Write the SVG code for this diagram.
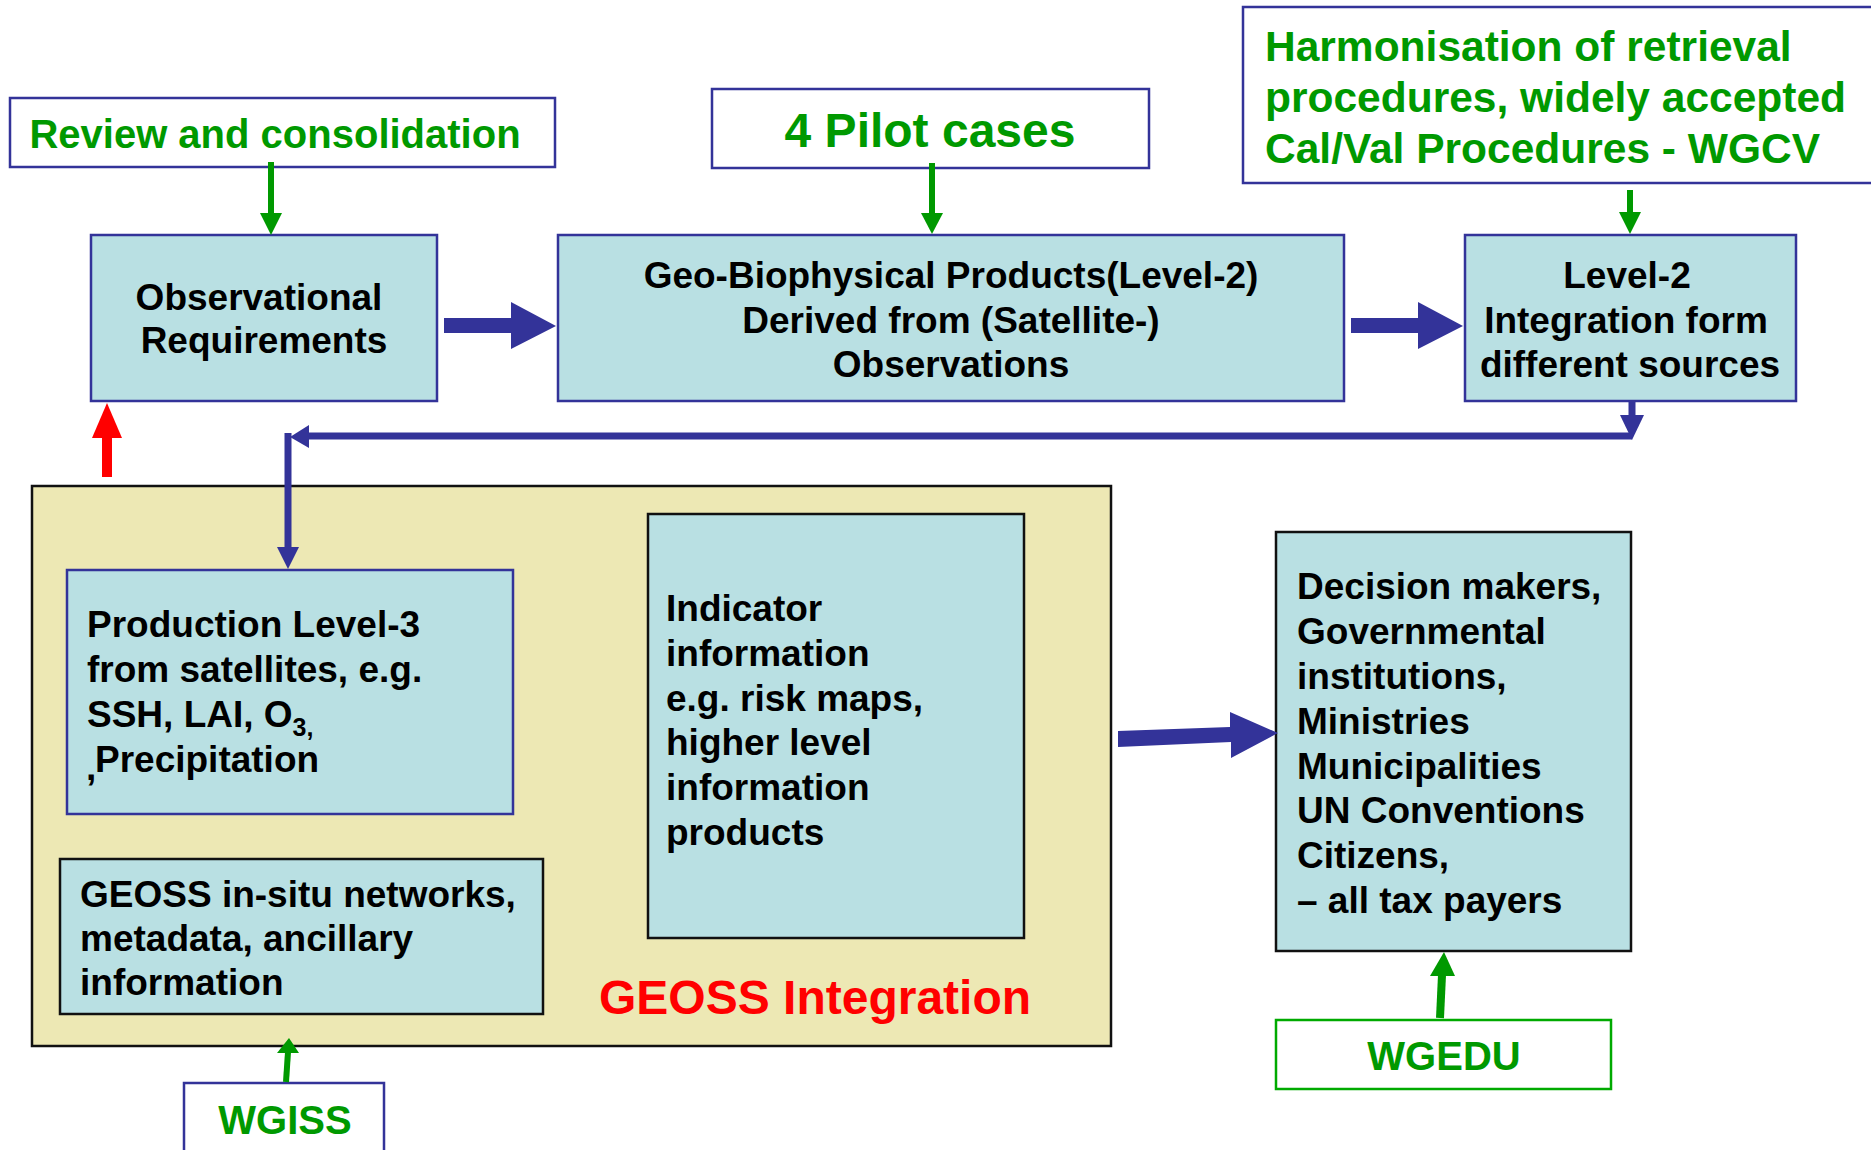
<svg xmlns="http://www.w3.org/2000/svg" width="1871" height="1150" viewBox="0 0 1871 1150">
<style>
.bg{fill:#ffffff}
.node{fill:#b9e0e3;stroke:#333399;stroke-width:2.5}
.nodek{fill:#b9e0e3;stroke:#111111;stroke-width:2.5}
.lab{fill:#ffffff;stroke:#333399;stroke-width:2.5}
.geoss{fill:#ede8b4;stroke:#111111;stroke-width:2.5}
.t{font-family:"Liberation Sans",Arial,sans-serif;font-weight:bold;font-size:37px;fill:#000000}
.g{font-family:"Liberation Sans",Arial,sans-serif;font-weight:bold;fill:#009900}
.r{font-family:"Liberation Sans",Arial,sans-serif;font-weight:bold;fill:#ff0000}
.blue{fill:#333399}
.green{fill:#009900}
.bline{fill:none;stroke:#333399;stroke-width:7}
.gline{fill:none;stroke:#009900;stroke-width:6}
</style>
<rect class="bg" x="0" y="0" width="1871" height="1150"/>

<g id="geoss-integration">
<rect class="geoss" x="32" y="486" width="1079" height="560"/>
<text class="r" x="599" y="1014" font-size="48">GEOSS Integration</text>
</g>

<g id="review">
<rect class="lab" x="10" y="98" width="545" height="69"/>
<text class="g" x="275" y="148" font-size="40" text-anchor="middle">Review and consolidation</text>
</g>

<g id="pilot">
<rect class="lab" x="712" y="89" width="437" height="79"/>
<text class="g" x="930" y="147" font-size="48" text-anchor="middle">4 Pilot cases</text>
</g>

<g id="harmonisation">
<rect class="lab" x="1243" y="7" width="640" height="176"/>
<text class="g" font-size="42.5"><tspan x="1265" y="61">Harmonisation of retrieval</tspan><tspan x="1265" y="112">procedures, widely accepted</tspan><tspan x="1265" y="163">Cal/Val Procedures - WGCV</tspan></text>
</g>

<g id="obs-req">
<rect class="node" x="91" y="235" width="346" height="166"/>
<text class="t" text-anchor="middle"><tspan x="259" y="310">Observational</tspan><tspan x="264" y="353">Requirements</tspan></text>
</g>

<g id="geo-bio">
<rect class="node" x="558" y="235" width="786" height="166"/>
<text class="t" text-anchor="middle"><tspan x="951" y="288">Geo-Biophysical Products(Level-2)</tspan><tspan x="951" y="333">Derived from (Satellite-)</tspan><tspan x="951" y="377">Observations</tspan></text>
</g>

<g id="level2">
<rect class="node" x="1465" y="235" width="331" height="166"/>
<text class="t" text-anchor="middle"><tspan x="1627" y="288">Level-2</tspan><tspan x="1626" y="333">Integration form</tspan><tspan x="1630" y="377">different sources</tspan></text>
</g>

<g id="production">
<rect class="node" x="67" y="570" width="446" height="244"/>
<text class="t"><tspan x="87" y="637">Production Level-3</tspan><tspan x="87" y="682">from satellites, e.g.</tspan><tspan x="87" y="727">SSH, LAI, O</tspan><tspan font-size="25" dy="9">3,</tspan></text>
<text class="t" x="86" y="780" font-size="24">,</text>
<text class="t" x="95" y="772">Precipitation</text>
</g>

<g id="insitu">
<rect class="nodek" x="60" y="859" width="483" height="155"/>
<text class="t"><tspan x="80" y="907">GEOSS in-situ networks,</tspan><tspan x="80" y="951">metadata, ancillary</tspan><tspan x="80" y="995">information</tspan></text>
</g>

<g id="indicator">
<rect class="nodek" x="648" y="514" width="376" height="424"/>
<text class="t"><tspan x="666" y="621">Indicator</tspan><tspan x="666" y="666">information</tspan><tspan x="666" y="711">e.g. risk maps,</tspan><tspan x="666" y="755">higher level</tspan><tspan x="666" y="800">information</tspan><tspan x="666" y="845">products</tspan></text>
</g>

<g id="decision">
<rect class="nodek" x="1276" y="532" width="355" height="419"/>
<text class="t"><tspan x="1297" y="599">Decision makers,</tspan><tspan x="1297" y="644">Governmental</tspan><tspan x="1297" y="689">institutions,</tspan><tspan x="1297" y="734">Ministries</tspan><tspan x="1297" y="779">Municipalities</tspan><tspan x="1297" y="823">UN Conventions</tspan><tspan x="1297" y="868">Citizens,</tspan><tspan x="1297" y="913">– all tax payers</tspan></text>
</g>

<g id="wgedu">
<rect x="1276" y="1020" width="335" height="69" fill="#ffffff" stroke="#00aa00" stroke-width="2.5"/>
<text class="g" x="1444" y="1070" font-size="40" text-anchor="middle">WGEDU</text>
</g>

<g id="wgiss">
<rect class="lab" x="184" y="1083" width="200" height="90"/>
<text class="g" x="285" y="1134" font-size="40" text-anchor="middle">WGISS</text>
</g>

<g id="connectors">
<!-- green arrows down -->
<line class="gline" x1="271" y1="162" x2="271" y2="214"/>
<polygon class="green" points="260,213 282,213 271,235"/>
<line class="gline" x1="932" y1="163" x2="932" y2="214"/>
<polygon class="green" points="921,213 943,213 932,234"/>
<line class="gline" x1="1630" y1="190" x2="1630" y2="213"/>
<polygon class="green" points="1619,212 1641,212 1630,234"/>
<!-- fat blue arrows -->
<polygon class="blue" points="444,318 511,318 511,302 556,326 511,349 511,333 444,333"/>
<polygon class="blue" points="1351,318 1418,318 1418,302 1463,326 1418,349 1418,333 1351,333"/>
<polygon class="blue" points="1118,731 1230,727 1230,712 1278,733 1231,758 1231,742 1118,747"/>
<!-- feedback loop -->
<line class="bline" x1="1632" y1="400" x2="1632" y2="416"/>
<polygon class="blue" points="1620,415 1644,415 1632,440"/>
<polyline class="bline" points="1632,436 308,436"/>
<polygon class="blue" points="309,425 309,448 290,437"/>
<polyline class="bline" points="288,433 288,548"/>
<polygon class="blue" points="277,547 299,547 288,569"/>
<!-- red arrow -->
<line x1="107" y1="477" x2="107" y2="437" stroke="#ff0000" stroke-width="10"/>
<polygon points="92,438 122,438 107,403" fill="#ff0000"/>
<!-- WGEDU arrow -->
<line x1="1440" y1="1018" x2="1442" y2="975" stroke="#009900" stroke-width="8"/>
<polygon class="green" points="1430,976 1455,976 1444,952"/>
<!-- WGISS arrow -->
<line class="gline" x1="286" y1="1082" x2="288" y2="1052"/>
<polygon class="green" points="277,1053 299,1053 289,1038"/>
</g>
</svg>
